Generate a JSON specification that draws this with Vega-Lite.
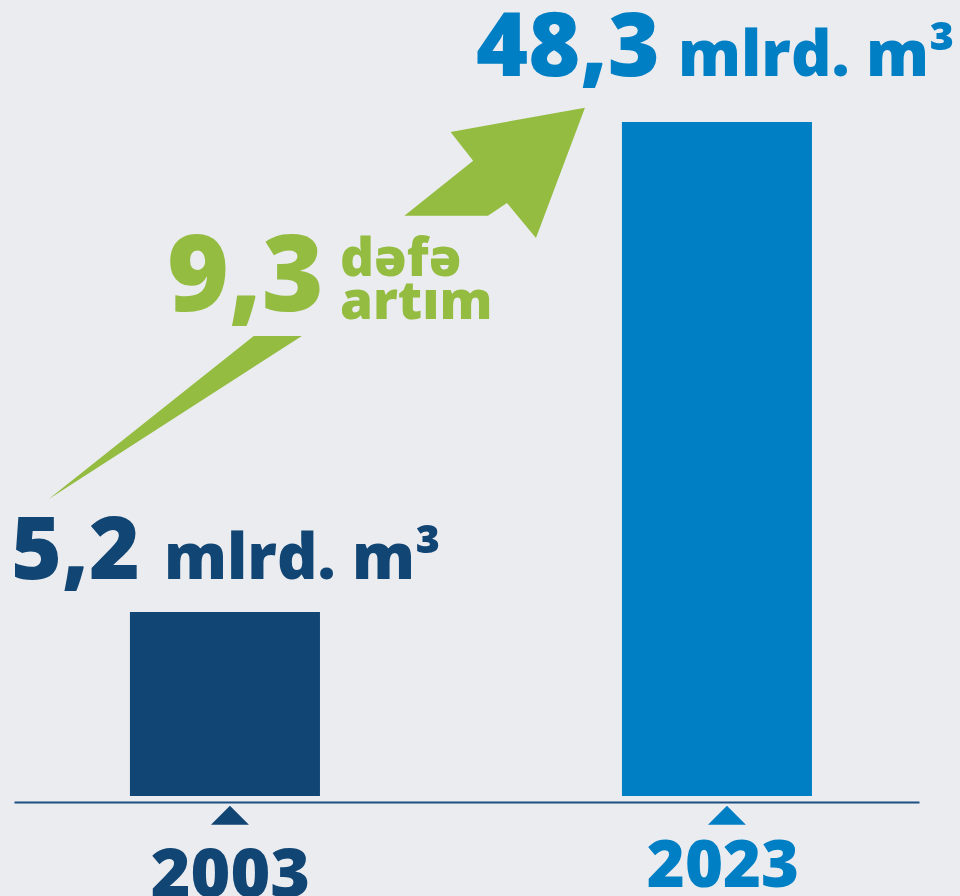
{
  "$schema": "https://vega.github.io/schema/vega-lite/v6.json",
  "width": 905,
  "height": 674,
  "autosize": {"type": "none"},
  "padding": {"left": 14, "top": 122, "right": 41, "bottom": 100},
  "background": "#EBECF0",
  "config": {"view": {"stroke": null}},
  "datasets": {
    "bars": [
      {"year": "2003", "value": 5.2, "label": "5,2", "unit": "mlrd. m³"},
      {"year": "2023", "value": 48.3, "label": "48,3", "unit": "mlrd. m³"}
    ],
    "note": [
      {"growth": "9,3", "word1": "dəfə", "word2": "artım"}
    ]
  },
  "layer": [
    {
      "data": {"name": "bars"},
      "mark": {"type": "bar"},
      "encoding": {
        "x": {
          "field": "year", "type": "nominal",
          "scale": {"paddingInner": 0.6138, "paddingOuter": 0.2266, "align": 0.52},
          "axis": {"title": null, "labels": false, "ticks": false, "domain": true, "domainColor": "#1D4F82", "domainWidth": 2, "offset": 6, "grid": false}
        },
        "y": {
          "field": "value", "type": "quantitative",
          "scale": {"type": "pow", "exponent": 0.5825, "domain": [0, 48.3], "nice": false},
          "axis": null
        },
        "color": {
          "field": "year", "type": "nominal",
          "scale": {"domain": ["2003", "2023"], "range": ["#114573", "#007FC4"]},
          "legend": null
        }
      }
    },
    {
      "data": {"name": "bars"},
      "mark": {"type": "point", "filled": true, "opacity": 1, "strokeWidth": 0, "size": 4},
      "encoding": {
        "x": {"field": "year", "type": "nominal"},
        "y": {"datum": 0, "type": "quantitative"},
        "shape": {
          "field": "year", "type": "nominal",
          "scale": {"domain": ["2003", "2023"], "range": ["M5,9.7L24,28.7L-14,28.7Z", "M10,9.7L29,28.7L-9,28.7Z"]},
          "legend": null
        },
        "color": {"field": "year", "type": "nominal", "legend": null}
      }
    },
    {
      "data": {"name": "bars"},
      "transform": [{"filter": "datum.year == '2003'"}],
      "mark": {"type": "text", "font": "Open Sans", "fontWeight": 800, "fontSize": 68, "align": "center", "baseline": "alphabetic", "dx": 5.5, "dy": 101},
      "encoding": {
        "x": {"field": "year", "type": "nominal"},
        "y": {"datum": 0, "type": "quantitative"},
        "text": {"field": "year"},
        "color": {"field": "year", "type": "nominal", "legend": null}
      }
    },
    {
      "data": {"name": "bars"},
      "transform": [{"filter": "datum.year == '2023'"}],
      "mark": {"type": "text", "font": "Open Sans", "fontWeight": 800, "fontSize": 65, "align": "center", "baseline": "alphabetic", "dx": 6, "dy": 91},
      "encoding": {
        "x": {"field": "year", "type": "nominal"},
        "y": {"datum": 0, "type": "quantitative"},
        "text": {"field": "year"},
        "color": {"field": "year", "type": "nominal", "legend": null}
      }
    },
    {
      "data": {"name": "bars"},
      "transform": [{"filter": "datum.year == '2003'"}],
      "mark": {"type": "text", "font": "Open Sans", "fontWeight": 800, "fontSize": 87, "align": "right", "baseline": "alphabetic", "dx": -85, "dy": -33},
      "encoding": {
        "x": {"field": "year", "type": "nominal"},
        "y": {"field": "value", "type": "quantitative"},
        "text": {"field": "label"},
        "color": {"field": "year", "type": "nominal", "legend": null}
      }
    },
    {
      "data": {"name": "bars"},
      "transform": [{"filter": "datum.year == '2003'"}],
      "mark": {"type": "text", "font": "Open Sans", "fontWeight": 800, "fontSize": 63, "align": "left", "baseline": "alphabetic", "dx": -61, "dy": -33},
      "encoding": {
        "x": {"field": "year", "type": "nominal"},
        "y": {"field": "value", "type": "quantitative"},
        "text": {"field": "unit"},
        "color": {"field": "year", "type": "nominal", "legend": null}
      }
    },
    {
      "data": {"name": "bars"},
      "transform": [{"filter": "datum.year == '2023'"}],
      "mark": {"type": "text", "font": "Open Sans", "fontWeight": 800, "fontSize": 89, "align": "right", "baseline": "alphabetic", "dx": -57, "dy": -46},
      "encoding": {
        "x": {"field": "year", "type": "nominal"},
        "y": {"field": "value", "type": "quantitative"},
        "text": {"field": "label"},
        "color": {"field": "year", "type": "nominal", "legend": null}
      }
    },
    {
      "data": {"name": "bars"},
      "transform": [{"filter": "datum.year == '2023'"}],
      "mark": {"type": "text", "font": "Open Sans", "fontWeight": 800, "fontSize": 63, "align": "left", "baseline": "alphabetic", "dx": -39, "dy": -46},
      "encoding": {
        "x": {"field": "year", "type": "nominal"},
        "y": {"field": "value", "type": "quantitative"},
        "text": {"field": "unit"},
        "color": {"field": "year", "type": "nominal", "legend": null}
      }
    },
    {
      "data": {"name": "note"},
      "mark": {
        "type": "point", "filled": true, "opacity": 1, "strokeWidth": 0, "size": 4, "color": "#94BC40",
        "shape": "M225.6,-480L360,-504.3L311,-374L282,-409L263,-396.3L179.4,-396.3L248.2,-451.3ZM-176.5,-112.7L28.8,-276L76.9,-276Z"
      },
      "encoding": {
        "x": {"datum": "2003", "type": "nominal"},
        "y": {"datum": 5.2, "type": "quantitative"}
      }
    },
    {
      "data": {"name": "note"},
      "mark": {"type": "text", "font": "Open Sans", "fontWeight": 800, "fontSize": 106, "align": "right", "baseline": "alphabetic", "dx": 99, "dy": -301, "color": "#94BC40"},
      "encoding": {
        "x": {"datum": "2003", "type": "nominal"},
        "y": {"datum": 5.2, "type": "quantitative"},
        "text": {"field": "growth"}
      }
    },
    {
      "data": {"name": "note"},
      "mark": {"type": "text", "font": "Open Sans", "fontWeight": 800, "fontSize": 53, "align": "left", "baseline": "alphabetic", "dx": 115, "dy": -336, "color": "#94BC40"},
      "encoding": {
        "x": {"datum": "2003", "type": "nominal"},
        "y": {"datum": 5.2, "type": "quantitative"},
        "text": {"field": "word1"}
      }
    },
    {
      "data": {"name": "note"},
      "mark": {"type": "text", "font": "Open Sans", "fontWeight": 800, "fontSize": 53, "align": "left", "baseline": "alphabetic", "dx": 115, "dy": -293, "color": "#94BC40"},
      "encoding": {
        "x": {"datum": "2003", "type": "nominal"},
        "y": {"datum": 5.2, "type": "quantitative"},
        "text": {"field": "word2"}
      }
    }
  ]
}
